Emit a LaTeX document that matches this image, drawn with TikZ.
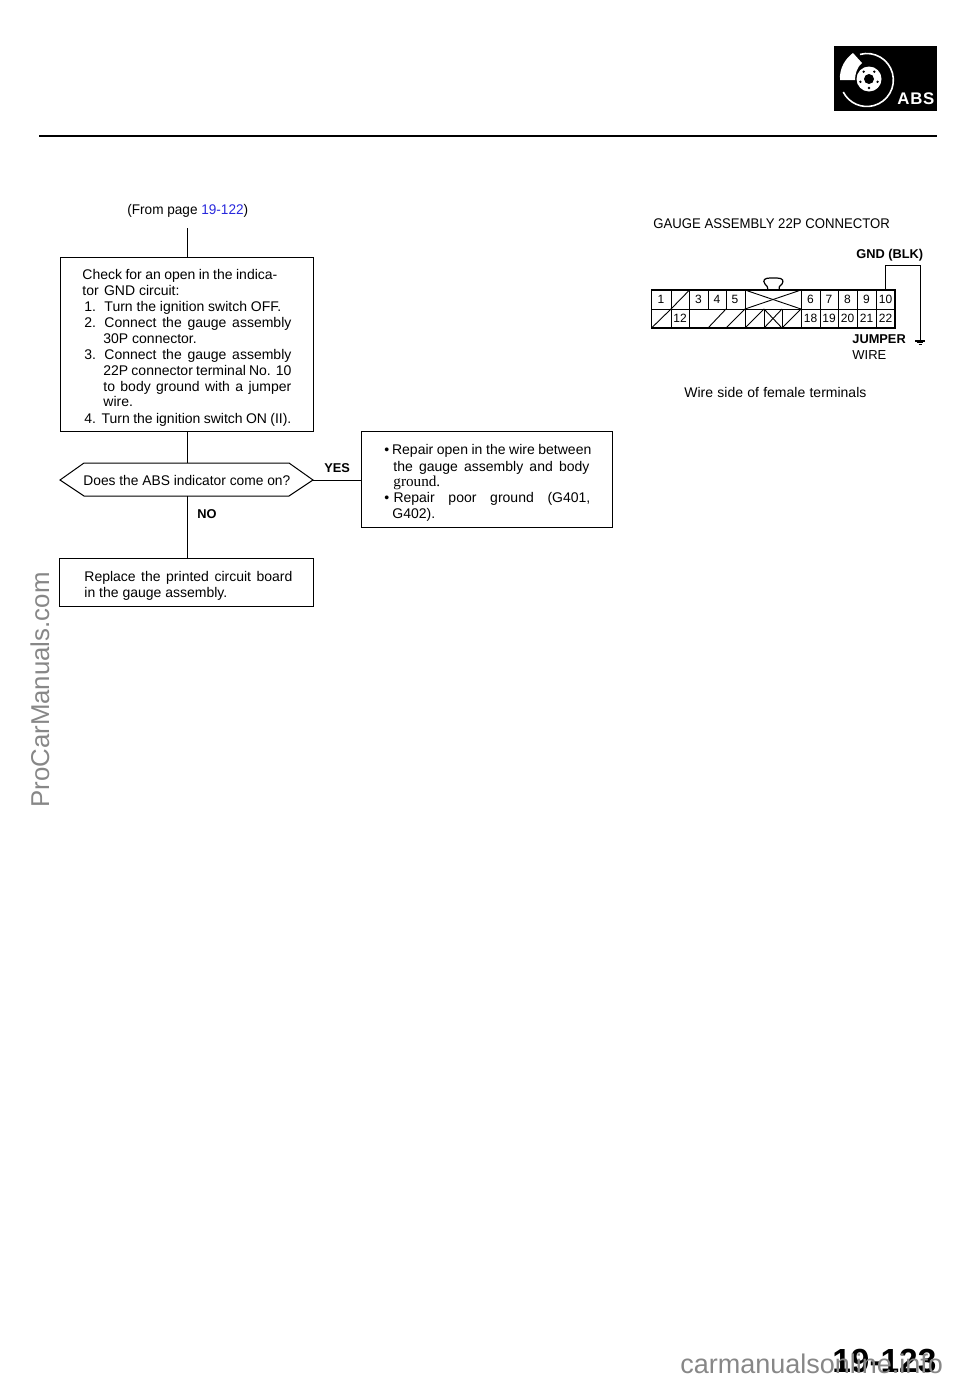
\documentclass[tikz,border=0pt]{standalone}
\usepackage{fontspec}
\setmainfont{Liberation Sans}
\tikzset{
 box/.style={draw,line width=0.5pt,inner sep=0pt},
 conn/.style={draw,line width=0.5pt},
 lab/.style={inner sep=0pt,anchor=base west,font=\fontsize{7}{8}\selectfont},
 bold/.style={inner sep=0pt,anchor=base west,font=\fontsize{6.4}{8}\selectfont\bfseries},
 cell/.style={inner sep=0pt,anchor=base,font=\fontsize{6}{7}\selectfont},
 grid/.style={line width=0.45pt}
}
\newcommand{\fitw}[2]{\makebox[\dimexpr #1pt/2\relax][s]{#2}}
\definecolor{linkblue}{RGB}{40,40,220}
\definecolor{wm}{RGB}{135,135,135}
\begin{document}
\begin{tikzpicture}[x=0.5pt,y=-0.5pt]
\useasboundingbox (0,0) rectangle (960,1382);
% header
\fill (834,46) rectangle (937,111);
\draw[white,line width=0.8pt] (860,54.4) arc[start angle=-105,end angle=153,radius=26.5];
\fill[white] (840,80) .. controls (839,68) and (846,58) .. (853,53) -- (862,63) .. controls (857,67) and (855,74) .. (855,80) -- cycle;
\fill[white] (869,79) circle[radius=12.5];
\fill (869,79) circle[radius=5];
\foreach \a in {90,162,234,306,18}{\fill (869,79)+(\a:9) circle[radius=1.3];}
\node[inner sep=0pt,anchor=base west,text=white,font=\fontsize{8.4}{9}\selectfont\bfseries] (abs) at (897,104) {\fitw{37}{A\hfil B\hfil S}};
\draw[line width=1.1pt] (39,136) -- (937,136);
% flow
\node[lab] (from) at (127,214) {\scalebox{0.97}[1]{(From page \textcolor{linkblue}{19-122})}};
\node[box,minimum width=126.5pt,minimum height=87.25pt] (b1) at (186.5,344.5) {};
\node[box,minimum width=127pt,minimum height=24.25pt] (b3) at (186.5,582.5) {};
\node[box,minimum width=125.5pt,minimum height=48pt] (b2) at (486.5,479) {};
\path[conn] (60,480) -- (84,463) -- (289,463) -- (313,480) -- (289,496) -- (84,496) -- cycle;
\coordinate (t0) at (187,228);
\coordinate (qn) at (187,463);
\coordinate (qs) at (187,496);
\coordinate (qe) at (313,480);
\draw[conn] (t0) -- (t0 |- b1.north);
\draw[conn] (qn |- b1.south) -- (qn);
\draw[conn] (qs) -- (qs |- b3.north);
\draw[conn] (qe) -- (qe -| b2.west);
\node[lab] at (83,485) {\scalebox{0.985}[1]{Does the ABS indicator come on?}};
\node[bold] at (324,472) {YES};
\node[bold] at (197,518) {NO};
% box1 text
\node[lab] at (82,279) {\fitw{195}{Check for an open in the indica-}};
\node[lab] at (82,295) {tor\hspace{0.1em} GND circuit:};
\node[lab] at (84,311) {1.\hspace{0.6em}Turn the ignition switch OFF.};
\node[lab] at (84,327) {\fitw{207}{2.\hspace{0.6em}Connect the gauge assembly}};
\node[lab] at (103,343) {30P connector.};
\node[lab] at (84,359) {\fitw{207}{3.\hspace{0.6em}Connect the gauge assembly}};
\node[lab] at (103,375) {\fitw{188}{22P connector terminal No. 10}};
\node[lab] at (103,391) {\fitw{188}{to body ground with a jumper}};
\node[lab] at (103,406) {wire.};
\node[lab] at (84,423) {\fitw{207}{4.\hspace{0.4em}Turn the ignition switch ON (II).}};
% box2 text
\node[lab] at (384,454) {\fitw{207}{•\hspace{0.2em}Repair open in the wire between}};
\node[lab] at (393,471) {\fitw{196}{the gauge assembly and body}};
\node[lab,font=\fontsize{7.6}{8}\selectfont\fontspec{Liberation Serif}] at (393,486) {ground.};
\node[lab] at (384,502) {\fitw{206}{•\hspace{0.3em}Repair poor ground (G401,}};
\node[lab] at (392,518) {G402).};
% box3 text
\node[lab] at (84,581) {\fitw{208}{Replace the printed circuit board}};
\node[lab] at (84,597) {in the gauge assembly.};
% connector diagram
\node[lab] at (653,228) {\scalebox{0.94}[1]{GAUGE ASSEMBLY 22P CONNECTOR}};
\node[bold] at (856,258) {GND (BLK)};
\node[bold] at (852,343) {JUMPER};
\node[lab,font=\fontsize{6.5}{8}\selectfont] at (852,359) {WIRE};
\node[lab] at (684,397) {\fitw{182}{Wire side of female terminals}};
\draw[line width=0.7pt] (651.5,290) rectangle (895,328);
\draw[grid] (651.5,309) -- (895,309);
\foreach \x in {671,689.5,708,726,745,801,820,838,857,876}{\draw[grid] (\x,290) -- (\x,309);}
\foreach \x in {671,689.5,801,820,838,857,876,745,764,782}{\draw[grid] (\x,309) -- (\x,328);}
\draw[grid] (671,309) -- (689.5,290);
\draw[grid] (651.5,328) -- (671,309);
\draw[grid] (745,290) -- (801,309);
\draw[grid] (745,309) -- (801,290);
\draw[grid] (708,328) -- (726,309);
\draw[grid] (726,328) -- (745,309);
\draw[grid] (745,328) -- (764,309);
\draw[grid] (764,309) -- (782,328);
\draw[grid] (764,328) -- (782,309);
\draw[grid] (782,328) -- (801,309);
\draw[grid,line width=0.6pt] (768,290) .. controls (769,287) and (766,286) .. (765,284) .. controls (762,280) and (765,278) .. (770,278) -- (777,278) .. controls (783,278) and (784,281) .. (782,284) .. controls (780,286) and (778,287) .. (779,290);
\foreach \x/\t in {661/1,698.5/3,717/4,735/5,810.5/6,829/7,847.5/8,866.5/9,885.5/10}{\node[cell] at (\x,303.5) {\t};}
\foreach \x/\t in {680/12,810.5/18,829/19,847.5/20,866.5/21,885.5/22}{\node[cell] at (\x,322.5) {\t};}
\coordinate (gnd) at (920,341);
\draw[line width=0.5pt] (885.5,290) -- (885.5,265) -- (920,265) -- (gnd);
\draw[line width=0.6pt] (gnd) ++(-5,0) -- ++(10,0);
\draw[line width=0.5pt] (gnd) ++(-3.2,1.7) -- ++(6.4,0);
\draw[line width=0.5pt] (gnd) ++(-1.5,3.4) -- ++(3,0);
% page number
\node[inner sep=0pt,anchor=base west,font=\fontsize{16.7}{18}\selectfont\bfseries] at (832,1372) {19-123};
% watermarks
\node[inner sep=0pt,anchor=base west,rotate=90,text=wm,font=\fontsize{12.9}{16}\selectfont] at (49,808) {ProCarManuals.com};
\node[inner sep=0pt,anchor=base west,text=wm,font=\fontsize{13.5}{16}\selectfont] at (680,1373) {carmanualsonline.info};
\end{tikzpicture}
\end{document}
